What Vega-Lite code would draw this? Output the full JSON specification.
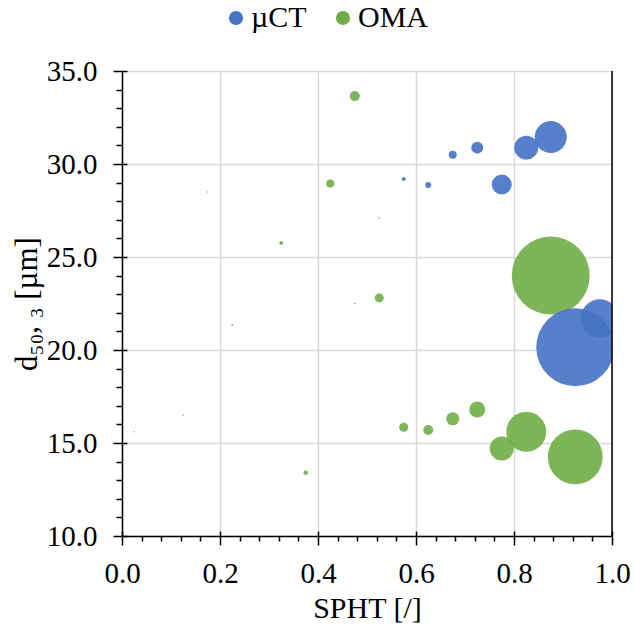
{
  "$schema": "https://vega.github.io/schema/vega-lite/v6.json",
  "width": 490,
  "height": 465,
  "autosize": {"type": "none"},
  "padding": {"left": 122, "top": 71, "right": 23, "bottom": 92},
  "background": "white",
  "config": {
    "view": {"stroke": null},
    "font": "Liberation Serif",
    "axis": {
      "labelFont": "Liberation Serif",
      "titleFont": "Liberation Serif",
      "labelColor": "black",
      "titleColor": "black",
      "titleFontWeight": "normal",
      "domainColor": "black",
      "domainWidth": 1.5,
      "tickColor": "black",
      "tickWidth": 1.5,
      "gridColor": "#d9d9d9",
      "gridWidth": 1.5,
      "labelOverlap": false,
      "labelBound": false,
      "labelFlush": false
    },
    "legend": {"labelFont": "Liberation Serif"}
  },
  "resolve": {
    "scale": {"x": "independent", "y": "independent"},
    "axis": {"x": "independent", "y": "independent"}
  },
  "layer": [
    {
      "data": {
        "values": [
          {"method": "OMA", "spht": 0.025, "d50": 15.6, "share": 0.035},
          {"method": "OMA", "spht": 0.125, "d50": 16.5, "share": 0.035},
          {"method": "OMA", "spht": 0.175, "d50": 28.5, "share": 0.035},
          {"method": "OMA", "spht": 0.225, "d50": 21.35, "share": 0.06},
          {"method": "OMA", "spht": 0.325, "d50": 25.75, "share": 0.25},
          {"method": "OMA", "spht": 0.375, "d50": 13.4, "share": 0.32},
          {"method": "OMA", "spht": 0.425, "d50": 28.95, "share": 1.0},
          {"method": "OMA", "spht": 0.475, "d50": 33.65, "share": 1.56},
          {"method": "OMA", "spht": 0.525, "d50": 22.8, "share": 1.27},
          {"method": "OMA", "spht": 0.575, "d50": 15.85, "share": 1.27},
          {"method": "OMA", "spht": 0.625, "d50": 15.7, "share": 1.56},
          {"method": "OMA", "spht": 0.675, "d50": 16.3, "share": 2.64},
          {"method": "OMA", "spht": 0.725, "d50": 16.8, "share": 4.0},
          {"method": "OMA", "spht": 0.775, "d50": 14.7, "share": 9.0},
          {"method": "OMA", "spht": 0.825, "d50": 15.6, "share": 25.0},
          {"method": "OMA", "spht": 0.875, "d50": 24.0, "share": 95.0},
          {"method": "OMA", "spht": 0.925, "d50": 14.25, "share": 47.0},
          {"method": "µCT", "spht": 0.475, "d50": 22.5, "share": 0.035},
          {"method": "µCT", "spht": 0.525, "d50": 27.1, "share": 0.035},
          {"method": "µCT", "spht": 0.575, "d50": 29.2, "share": 0.25},
          {"method": "µCT", "spht": 0.625, "d50": 28.87, "share": 0.56},
          {"method": "µCT", "spht": 0.675, "d50": 30.5, "share": 1.0},
          {"method": "µCT", "spht": 0.725, "d50": 30.88, "share": 2.25},
          {"method": "µCT", "spht": 0.775, "d50": 28.9, "share": 6.25},
          {"method": "µCT", "spht": 0.825, "d50": 30.88, "share": 9.0},
          {"method": "µCT", "spht": 0.875, "d50": 31.45, "share": 16.0},
          {"method": "µCT", "spht": 0.925, "d50": 20.15, "share": 95.0},
          {"method": "µCT", "spht": 0.975, "d50": 21.7, "share": 22.6}
        ]
      },
      "mark": {"type": "circle", "opacity": 0.9, "clip": true},
      "encoding": {
        "x": {
          "field": "spht",
          "type": "quantitative",
          "scale": {"domain": [0, 1], "nice": false, "zero": false},
          "axis": {
            "orient": "bottom",
            "title": "SPHT [/]",
            "titleFont": "Liberation Serif",
            "labelFont": "Liberation Serif",
            "titleFontSize": 30,
            "titlePadding": 5,
            "labelFontSize": 29,
            "labelPadding": 14,
            "labelOverlap": false,
            "values": [0, 0.2, 0.4, 0.6, 0.8, 1.0],
            "format": ".1f",
            "tickSize": 9
          }
        },
        "y": {
          "field": "d50",
          "type": "quantitative",
          "scale": {"domain": [10, 35], "nice": false, "zero": false},
          "axis": {
            "orient": "left",
            "title": "d₅₀, ₃ [µm]",
            "titleFont": "Liberation Serif",
            "labelFont": "Liberation Serif",
            "titleFontSize": 31,
            "titlePadding": 3,
            "labelFontSize": 29,
            "labelPadding": 16,
            "labelOverlap": false,
            "values": [10, 15, 20, 25, 30, 35],
            "format": ".1f",
            "tickSize": 9
          }
        },
        "size": {
          "field": "share",
          "type": "quantitative",
          "scale": {"type": "linear", "domain": [0, 100], "range": [0, 6400], "zero": true},
          "legend": null
        },
        "color": {
          "field": "method",
          "type": "nominal",
          "scale": {"domain": ["µCT", "OMA"], "range": ["#4472C4", "#70AD47"]},
          "legend": {
            "title": null,
            "orient": "none",
            "direction": "horizontal",
            "legendX": 99,
            "legendY": -68,
            "padding": 0,
            "symbolType": "circle",
            "symbolSize": 200,
            "symbolOpacity": 1,
            "symbolStrokeWidth": 0,
            "labelFont": "Liberation Serif",
            "labelFontSize": 30,
            "labelColor": "black",
            "labelOffset": 0,
            "columnPadding": 21
          }
        }
      }
    },
    {
      "data": {"values": [{"spht": 1}]},
      "mark": {"type": "rule", "color": "black", "strokeWidth": 1.5},
      "encoding": {
        "x": {
          "field": "spht",
          "type": "quantitative",
          "scale": {"domain": [0, 1], "nice": false, "zero": false},
          "axis": {
            "orient": "bottom",
            "title": null,
            "labels": false,
            "grid": false,
            "domain": false,
            "tickSize": 5,
            "values": [0.04, 0.08, 0.12, 0.16, 0.24, 0.28, 0.32, 0.36, 0.44, 0.48, 0.52, 0.56, 0.64, 0.68, 0.72, 0.76, 0.84, 0.88, 0.92, 0.96]
          }
        }
      }
    },
    {
      "data": {"values": [{"d50": 35}]},
      "mark": {"type": "rule", "strokeOpacity": 0},
      "encoding": {
        "y": {
          "field": "d50",
          "type": "quantitative",
          "scale": {"domain": [10, 35], "nice": false, "zero": false},
          "axis": {
            "orient": "left",
            "title": null,
            "labels": false,
            "grid": false,
            "domain": false,
            "tickSize": 6,
            "values": [11, 12, 13, 14, 16, 17, 18, 19, 21, 22, 23, 24, 26, 27, 28, 29, 31, 32, 33, 34]
          }
        }
      }
    },
    {
      "data": {"values": [{"spht": 0, "d50": 10}]},
      "mark": {"type": "point", "opacity": 0},
      "encoding": {
        "x": {
          "field": "spht",
          "type": "quantitative",
          "scale": {"domain": [0, 1], "nice": false, "zero": false},
          "axis": {
            "orient": "bottom",
            "title": null,
            "labels": false,
            "grid": false,
            "domain": false,
            "tickSize": -5,
            "values": [0, 0.2, 0.4, 0.6, 0.8, 1.0]
          }
        },
        "y": {
          "field": "d50",
          "type": "quantitative",
          "scale": {"domain": [10, 35], "nice": false, "zero": false},
          "axis": {
            "orient": "left",
            "title": null,
            "labels": false,
            "grid": false,
            "domain": false,
            "tickSize": -5,
            "values": [10, 15, 20, 25, 30, 35]
          }
        }
      }
    }
  ]
}
